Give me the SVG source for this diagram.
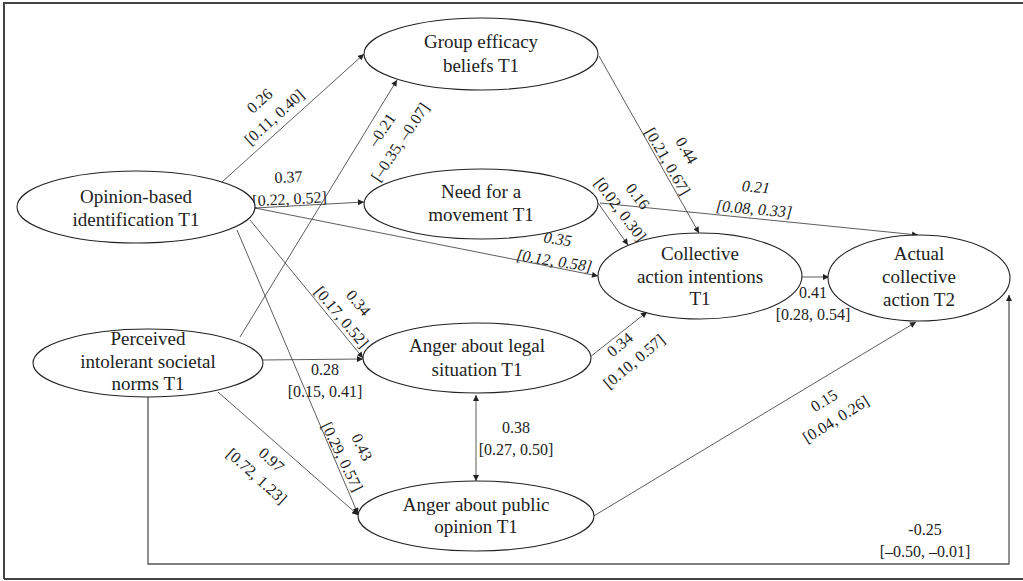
<svg xmlns="http://www.w3.org/2000/svg" width="1023" height="581" viewBox="0 0 1023 581">
<style>
.node ellipse{fill:#fff;stroke:#222;stroke-width:1.1}
.node text{font-family:"Liberation Serif","Times New Roman",serif;font-size:19px;fill:#222;text-anchor:middle}
.edge{fill:none;stroke:#333;stroke-width:0.8}
.lbl text{font-family:"Liberation Serif","Times New Roman",serif;font-size:16px;fill:#222;text-anchor:middle}
.it text{font-style:italic}
</style>
<defs>
<marker id="ah" viewBox="0 0 10 10" refX="10" refY="5" markerWidth="7" markerHeight="6" markerUnits="userSpaceOnUse" orient="auto-start-reverse">
<path d="M0,0 L10,5 L0,10 z" fill="#222"/>
</marker>
</defs>
<rect x="0" y="0" width="1023" height="581" fill="#fff"/>
<path d="M4,579 L4,3 L1030,3 M4,579 L1030,579" fill="none" stroke="#444" stroke-width="2"/>
<g id="connectors">
<line class="edge" x1="222" y1="182" x2="364" y2="54" marker-end="url(#ah)"/>
<line class="edge" x1="240" y1="337" x2="397" y2="80" marker-end="url(#ah)"/>
<line class="edge" x1="255" y1="208" x2="364" y2="202" marker-end="url(#ah)"/>
<line class="edge" x1="255" y1="208" x2="598" y2="276" marker-end="url(#ah)"/>
<line class="edge" x1="598" y1="203" x2="628" y2="245" marker-end="url(#ah)"/>
<line class="edge" x1="600" y1="203" x2="918" y2="235" marker-end="url(#ah)"/>
<line class="edge" x1="599" y1="56" x2="699" y2="233" marker-end="url(#ah)"/>
<line class="edge" x1="802" y1="277" x2="829" y2="277" marker-end="url(#ah)"/>
<line class="edge" x1="590" y1="357" x2="647" y2="312" marker-end="url(#ah)"/>
<line class="edge" x1="250" y1="220" x2="363" y2="358" marker-end="url(#ah)"/>
<line class="edge" x1="237" y1="230" x2="358" y2="514" marker-end="url(#ah)"/>
<line class="edge" x1="262" y1="360" x2="363" y2="359" marker-end="url(#ah)"/>
<line class="edge" x1="218" y1="392" x2="358" y2="515" marker-end="url(#ah)"/>
<line class="edge" x1="476" y1="395" x2="476" y2="481" marker-start="url(#ah)" marker-end="url(#ah)"/>
<line class="edge" x1="592" y1="517" x2="916" y2="322" marker-end="url(#ah)"/>
<polyline class="edge" points="148,397 148,564 1009,564 1009,295" style="stroke:#555;stroke-width:1.3" marker-end="url(#ah)"/>
</g>
<g id="labels">
<g class="lbl" transform="translate(267,109) rotate(-42)"><text y="-5.7">0.26</text><text y="16.3">[0.11, 0.40]</text></g>
<g class="lbl" transform="translate(391,136) rotate(-56)"><text y="-5.7">–0.21</text><text y="16.3">[–0.35, –0.07]</text></g>
<g class="lbl" transform="translate(289,188) rotate(-3)"><text y="-5.7">0.37</text><text y="16.3">[0.22, 0.52]</text></g>
<g class="lbl it" transform="translate(556,250) rotate(9)"><text y="-5.7">0.35</text><text y="16.3">[0.12, 0.58]</text></g>
<g class="lbl" transform="translate(629,203) rotate(53)"><text y="-5.7">0.16</text><text y="16.3">[0.02, 0.30]</text></g>
<g class="lbl it" transform="translate(755,198) rotate(5)"><text y="-5.7">0.21</text><text y="16.3">[0.08, 0.33]</text></g>
<g class="lbl" transform="translate(677,156) rotate(60)"><text y="-5.7">0.44</text><text y="16.3">[0.21, 0.67]</text></g>
<g class="lbl" transform="translate(813,304)"><text y="-5.7">0.41</text><text y="16.3">[0.28, 0.54]</text></g>
<g class="lbl" transform="translate(627,353) rotate(-40)"><text y="-5.7">0.34</text><text y="16.3">[0.10, 0.57]</text></g>
<g class="lbl" transform="translate(350,310) rotate(50)"><text y="-5.7">0.34</text><text y="16.3">[0.17, 0.52]</text></g>
<g class="lbl" transform="translate(352,452) rotate(64)"><text y="-5.7">0.43</text><text y="16.3">[0.29, 0.57]</text></g>
<g class="lbl" transform="translate(325,381)"><text y="-5.7">0.28</text><text y="16.3">[0.15, 0.41]</text></g>
<g class="lbl" transform="translate(264,468) rotate(42)"><text y="-5.7">0.97</text><text y="16.3">[0.72, 1.23]</text></g>
<g class="lbl" transform="translate(516,439)"><text y="-5.7">0.38</text><text y="16.3">[0.27, 0.50]</text></g>
<g class="lbl" transform="translate(830,410) rotate(-32)"><text y="-5.7">0.15</text><text y="16.3">[0.04, 0.26]</text></g>
<g class="lbl" transform="translate(925,541)"><text y="-5.7">-0.25</text><text y="16.3">[–0.50, –0.01]</text></g>
</g>
<g id="group-efficacy" class="node"><ellipse cx="481" cy="54" rx="117" ry="36"/><text x="481" y="48">Group efficacy</text><text x="481" y="72">beliefs T1</text></g>
<g id="need-movement" class="node"><ellipse cx="481" cy="204" rx="117" ry="35"/><text x="481" y="198">Need for a</text><text x="481" y="221">movement T1</text></g>
<g id="opinion-based" class="node"><ellipse cx="136" cy="207" rx="119" ry="36"/><text x="136" y="203">Opinion-based</text><text x="136" y="226">identification T1</text></g>
<g id="perceived-norms" class="node"><ellipse cx="148" cy="363" rx="115" ry="34"/><text x="148" y="345">Perceived</text><text x="148" y="368">intolerant societal</text><text x="148" y="390">norms T1</text></g>
<g id="anger-legal" class="node"><ellipse cx="477" cy="358" rx="114" ry="35"/><text x="477" y="352">Anger about legal</text><text x="477" y="376">situation T1</text></g>
<g id="anger-public" class="node"><ellipse cx="476" cy="516" rx="118" ry="35"/><text x="476" y="511">Anger about public</text><text x="476" y="533">opinion T1</text></g>
<g id="collective-intentions" class="node"><ellipse cx="700" cy="276" rx="102" ry="43"/><text x="700" y="260">Collective</text><text x="700" y="283">action intentions</text><text x="700" y="305">T1</text></g>
<g id="actual-action" class="node"><ellipse cx="919" cy="278" rx="91" ry="43"/><text x="919" y="260">Actual</text><text x="919" y="283">collective</text><text x="919" y="306">action T2</text></g>
</svg>
